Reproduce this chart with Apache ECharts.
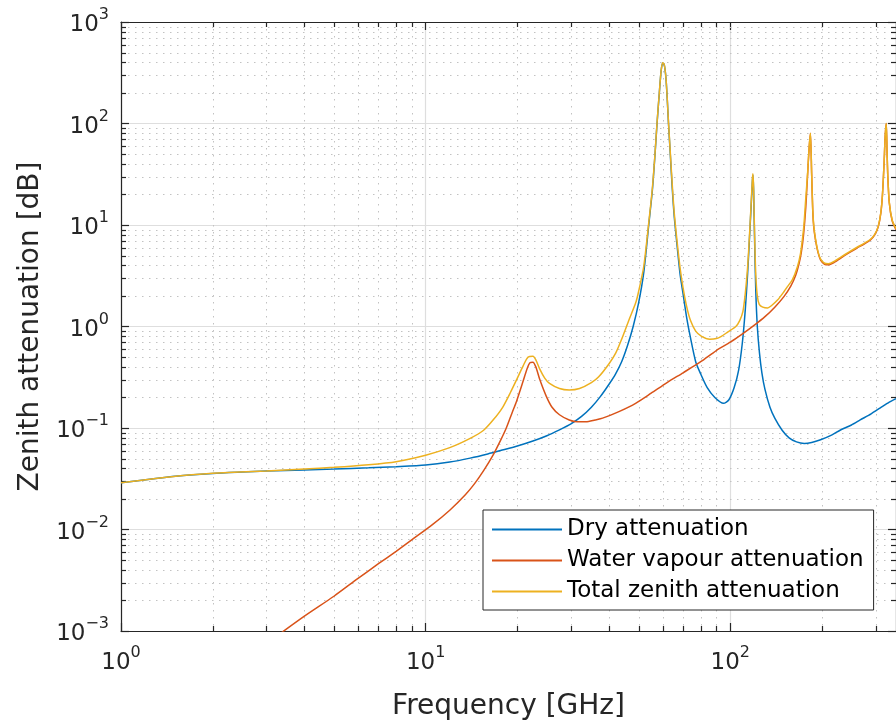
<!DOCTYPE html>
<html><head><meta charset="utf-8">
<script src="https://cdn.jsdelivr.net/npm/echarts@6/dist/echarts.min.js"></script>
<style>html,body{margin:0;padding:0;background:#fff}#c{width:896px;height:727px}</style>
</head><body><div id="c"></div>
<script>
// ---- data ----
const dryFreq = [1,1.3,1.6,2,2.5,3,4,5,6.5,8,10,12,14,16,18,20,22.5,25,27.5,30,32.5,35,37.5,40,42,44,46,48,50,52,54,55.5,56.5,57.5,58.5,59.3,60,60.7,61.5,62.2,62.7,63.5,64.5,65.5,67,68.5,70,72,74,77,80,84,89,95,99,103,106.5,109.5,112,114,115.8,117.3,118.3,118.75,119.3,120.2,121.3,122.7,124.7,127,130,135,140,148,156,165,175,185,197.9,215,230,250,267,290,310,332.7,350];
const dryAtt  = [0.0289,0.0318,0.034,0.0357,0.0368,0.0376,0.0386,0.0394,0.0405,0.0416,0.0432,0.0462,0.0505,0.0555,0.061,0.0665,0.0745,0.084,0.096,0.11,0.13,0.16,0.205,0.27,0.34,0.45,0.65,1.0,1.7,3.4,10,22,45,100,200,330,395,380,280,160,100,52,23,12,6.0,3.2,2.1,1.2,0.78,0.45,0.34,0.25,0.2,0.175,0.19,0.25,0.37,0.68,1.45,3.3,8,17,28,31,22,7,2.2,1.0,0.55,0.35,0.24,0.16,0.125,0.095,0.08,0.073,0.0705,0.072,0.0765,0.085,0.0955,0.107,0.12,0.138,0.157,0.18,0.195];

const wetFreq = [3,4,5,6,7,8,9,10.5,12,13.5,14.5,15.5,16.7,17.6,18.4,19.2,19.9,20.9,21.5,22,22.5,23,23.7,24.9,26,27.5,29.6,31.5,33.6,36,38.1,43.1,48.9,55,62,70,80,90,100,110,120,130,140,150,158,164,168,171,174,177,179.5,181.5,183.3,185,186.5,188,190.5,194,198,204,210,220,230,245,260,275,288,298,306,312,316,320,322.5,325.15,327,329,332.7,340,350];
const wetAtt  = [0.00075,0.0014,0.0022,0.0033,0.0046,0.0061,0.0079,0.0111,0.0155,0.022,0.0285,0.038,0.055,0.075,0.1,0.14,0.185,0.29,0.38,0.44,0.445,0.4,0.3,0.205,0.16,0.135,0.12,0.115,0.115,0.12,0.125,0.145,0.175,0.22,0.28,0.35,0.45,0.58,0.7,0.85,1.03,1.25,1.55,1.97,2.5,3.2,4.1,5.3,8,15,32,57,80,32,14,9.5,7.1,5.4,4.5,4.1,4.05,4.3,4.7,5.3,5.9,6.5,7.1,8.0,9.6,13,20,42,75,100,55,30,16.5,11,9];

const totFreq = [1,1.3,1.6,2,3,4,5,6.5,8,10,12,14,15.5,16.7,17.9,19,19.9,20.9,21.7,22.5,23,23.7,24.6,25.5,27.5,29.6,32,35,37,40,42.1,44,46.5,48.9,50,52,54,55.5,56.5,57.5,58.5,59.3,60,60.7,61.5,62.2,62.7,63.5,64.5,65.5,67,68.5,70,72,74,77,80.5,85.7,90,93.5,98,104.3,107.5,110,112,114,115.8,117.3,118.3,118.75,119.3,120.2,121.3,122.7,124.5,127.8,132.6,137,142.9,150,154.1,160,166.1,170,172.4,174.5,176.8,179.5,181.5,183.3,185,186.5,188,190.5,194,198,204,210,220,230,245,260,275,288,298,306,312,316,320,322.5,325.15,327,329,332.7,340,350];
const totAtt  = [0.0289,0.0318,0.034,0.0358,0.0378,0.0395,0.041,0.0435,0.0466,0.054,0.064,0.079,0.095,0.121,0.16,0.225,0.3,0.41,0.5,0.51,0.47,0.38,0.31,0.275,0.245,0.237,0.245,0.28,0.32,0.43,0.55,0.75,1.16,1.7,2.2,3.9,10.5,23,46,102,202,332,397,382,282,162,102,54,25,13,6.6,3.7,2.4,1.55,1.15,0.9,0.8,0.75,0.76,0.8,0.88,1.0,1.15,1.4,2.1,3.8,8.5,18,29,32,23,8,3.2,2.0,1.65,1.55,1.52,1.62,1.82,2.2,2.47,2.9,3.88,5.2,7.1,10,17.6,33,58,80,32,14.5,9.8,7.3,5.5,4.6,4.2,4.15,4.4,4.8,5.4,6.0,6.6,7.2,8.1,9.7,13.2,20,42,75,100,55,30,16.7,11.2,9.2];

const seriesNames = ['Dry attenuation','Water vapour attenuation','Total zenith attenuation'];
const seriesColors = ['#0072BD','#D95319','#EDB120'];
const xRange = [1, 350];
const yRange = [1e-3, 1e3];
const xTitle = 'Frequency [GHz]';
const yTitle = 'Zenith attenuation [dB]';

// ---- helpers ----
const FONT = 'DejaVu Sans';
const TXT = '#262626';
function pairs(f, a){ return f.map((v,i)=>[v, a[i]]); }
function minorValues(lo, hi){
  const out=[];
  for(let d=Math.floor(Math.log10(lo)); d<=Math.ceil(Math.log10(hi)); d++){
    for(let k=2;k<=9;k++){ const v=k*Math.pow(10,d); if(v>lo*1.0001 && v<hi*0.9999) out.push(v); }
  }
  return out;
}
const xMinor = minorValues(xRange[0], xRange[1]);
const yMinor = minorValues(yRange[0], yRange[1]);

function powLabel(v){
  const l = Math.log10(v), e = Math.round(l);
  if (Math.abs(l-e) > 1e-6) return '';
  return '{b|10}{s|' + (e<0 ? '\u2212'+(-e) : e) + '}';
}
const richLab = {
  b:{fontFamily:FONT,fontSize:23,color:TXT,lineHeight:30,verticalAlign:'bottom'},
  s:{fontFamily:FONT,fontSize:16,color:TXT,lineHeight:16,verticalAlign:'top'}
};

const chart = echarts.init(document.getElementById('c'), null, {renderer:'canvas'});
const axisLineStyle = {color:TXT, width:1.2};
const majorTick = {show:true, inside:true, length:8, lineStyle:{color:TXT,width:1.2}};

function lineSeries(i, f, a, z){
  return {name:seriesNames[i], type:'line', data:pairs(f,a), symbol:'none', z:z,
    smooth:0.25,
    lineStyle:{color:seriesColors[i],width:1.5}, itemStyle:{color:seriesColors[i]}};
}

const option = {
  animation:false,
  backgroundColor:'#fff',
  grid:{left:121, top:22, width:780, height:609, show:false},
  legend:{
    orient:'vertical', left:483, top:510,
    data:seriesNames,
    icon:'rect',
    itemWidth:70, itemHeight:2, itemGap:8,
    padding:[8,10,7,9],
    borderColor:TXT, borderWidth:1, backgroundColor:'#fff',
    textStyle:{fontFamily:FONT, fontSize:23, color:'#000', lineHeight:23},
    selectedMode:false
  },
  xAxis:[
    {type:'log', logBase:10, min:xRange[0], max:xRange[1], position:'bottom',
     axisLine:{show:true,lineStyle:axisLineStyle}, axisTick:majorTick,
     axisLabel:{formatter:powLabel, rich:richLab, margin:14, showMaxLabel:false},
     splitLine:{show:true,lineStyle:{color:'#dedede',width:1.2}},
     name:xTitle, nameLocation:'middle', nameGap:62,
     nameTextStyle:{fontFamily:FONT,fontSize:28,color:TXT}},
    {type:'log', logBase:10, min:xRange[0], max:xRange[1], position:'top',
     axisLine:{show:true,lineStyle:axisLineStyle}, axisTick:majorTick,
     axisLabel:{show:false}, splitLine:{show:false}}
  ],
  yAxis:[
    {type:'log', logBase:10, min:yRange[0], max:yRange[1], position:'left',
     axisLine:{show:true,lineStyle:axisLineStyle}, axisTick:majorTick,
     axisLabel:{formatter:powLabel, rich:richLab, margin:12},
     splitLine:{show:true,lineStyle:{color:'#dedede',width:1.2}},
     name:yTitle, nameLocation:'middle', nameGap:76,
     nameTextStyle:{fontFamily:FONT,fontSize:28,color:TXT}},
    {type:'log', logBase:10, min:yRange[0], max:yRange[1], position:'right',
     axisLine:{show:true,lineStyle:axisLineStyle}, axisTick:majorTick,
     axisLabel:{show:false}, splitLine:{show:false}}
  ],
  series:[
    {type:'custom', silent:true, z:1, xAxisIndex:0, yAxisIndex:0, data:[[1,1]],
     renderItem:function(params, api){
       const cs = params.coordSys;
       const x0=cs.x, x1=cs.x+cs.width, y0=cs.y, y1=cs.y+cs.height;
       const ch=[];
       const dot={stroke:'#c2c2c2', lineWidth:1, lineDash:[1.5,5.5]};
       const tk={stroke:TXT, lineWidth:1.2};
       xMinor.forEach(v=>{
         const px=Math.round(api.coord([v,1])[0])+0.5;
         ch.push({type:'line',shape:{x1:px,y1:y0,x2:px,y2:y1},style:dot});
         ch.push({type:'line',shape:{x1:px,y1:y1,x2:px,y2:y1-5},style:tk});
         ch.push({type:'line',shape:{x1:px,y1:y0,x2:px,y2:y0+5},style:tk});
       });
       yMinor.forEach(v=>{
         const py=Math.round(api.coord([1,v])[1])+0.5;
         ch.push({type:'line',shape:{x1:x0,y1:py,x2:x1,y2:py},style:dot});
         ch.push({type:'line',shape:{x1:x0,y1:py,x2:x0+5,y2:py},style:tk});
         ch.push({type:'line',shape:{x1:x1,y1:py,x2:x1-5,y2:py},style:tk});
       });
       return {type:'group', children:ch};
     }},
    lineSeries(0, dryFreq, dryAtt, 3),
    lineSeries(1, wetFreq, wetAtt, 4),
    lineSeries(2, totFreq, totAtt, 5)
  ]
};
chart.setOption(option);
</script>
</body></html>
